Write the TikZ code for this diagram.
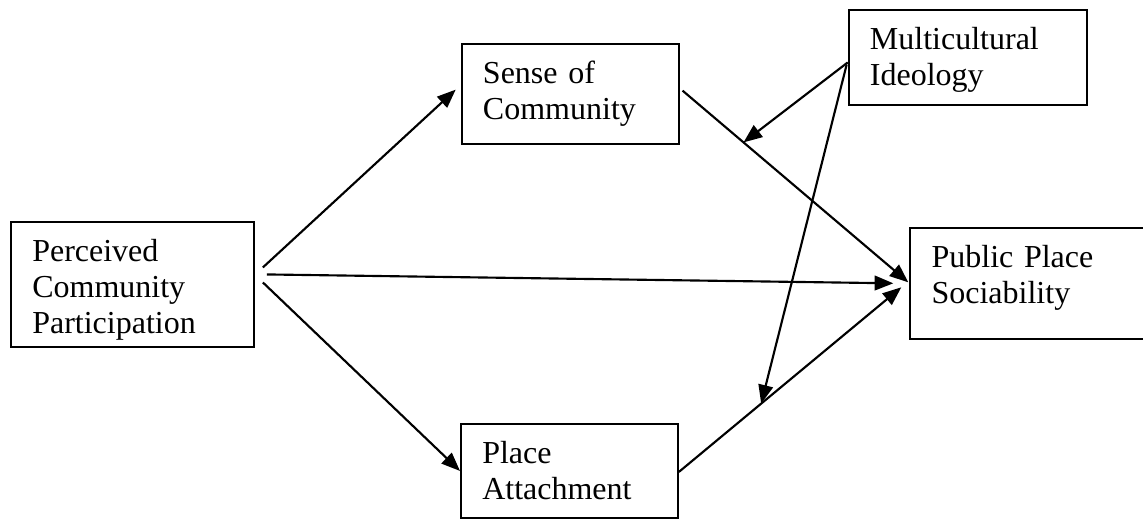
\documentclass[tikz,border=0pt]{standalone}
\usepackage{fontspec}
\setmainfont{Liberation Serif}
\usetikzlibrary{arrows.meta, positioning, calc}

\begin{document}
\begin{tikzpicture}[
        x=0.75pt, y=-0.75pt,
        box/.style={rectangle, draw=black, line width=1.4pt, anchor=north west, inner xsep=16pt, inner ysep=0pt, text height=30pt, align=left, font=\fontsize{24pt}{27pt}\selectfont},
        arr/.style={-{Triangle[length=14pt, width=11pt]}, line width=1.6pt}
    ]
        \useasboundingbox (0,0) rectangle (1143,519);

        \node[box, text width=150.25pt, text depth=63.75pt] (pcp) at (10,221) {Perceived\\Community\\Participation};
        \node[box, text width=130.75pt, text depth=45pt] (sense) at (460.7,42.7) {Sense of\\Community};
        \node[box, text width=130.75pt, text depth=40.5pt] (place) at (460,423) {Place\\Attachment};
        \node[box, text width=146.7pt, text depth=41.25pt] (multi) at (847.7,9) {Multicultural\\Ideology};
        \node[box, text width=155.5pt, text depth=53.5pt] (pps) at (909.3,226.7) {Public Place\\Sociability};

        % paths from participation
        \draw[arr] ($(pcp.east)+(8,-17)$) -- ($(sense.west)+(-5,-4)$);
        \draw[arr] ($(pcp.east)+(8,-2)$) -- (place.west);
        \draw[arr] ($(pcp.east)+(12,-10)$) -- ($(pps.west)+(-16,0)$);

        % mediators to sociability
        \draw[arr] ($(sense.east)+(3,-3)$) -- ($(pps.west)+(-1,-1)$) coordinate[pos=0.27] (m1);
        \draw[arr] ($(place.east)+(0,1)$) -- ($(pps.west)+(-8,4)$) coordinate[pos=0.37] (m2);

        % moderation
        \draw[arr] ($(multi.west)+(0,5)$) -- (m1);
        \draw[arr] ($(multi.west)+(-1,7)$) -- (m2);
    \end{tikzpicture}
\end{document}
